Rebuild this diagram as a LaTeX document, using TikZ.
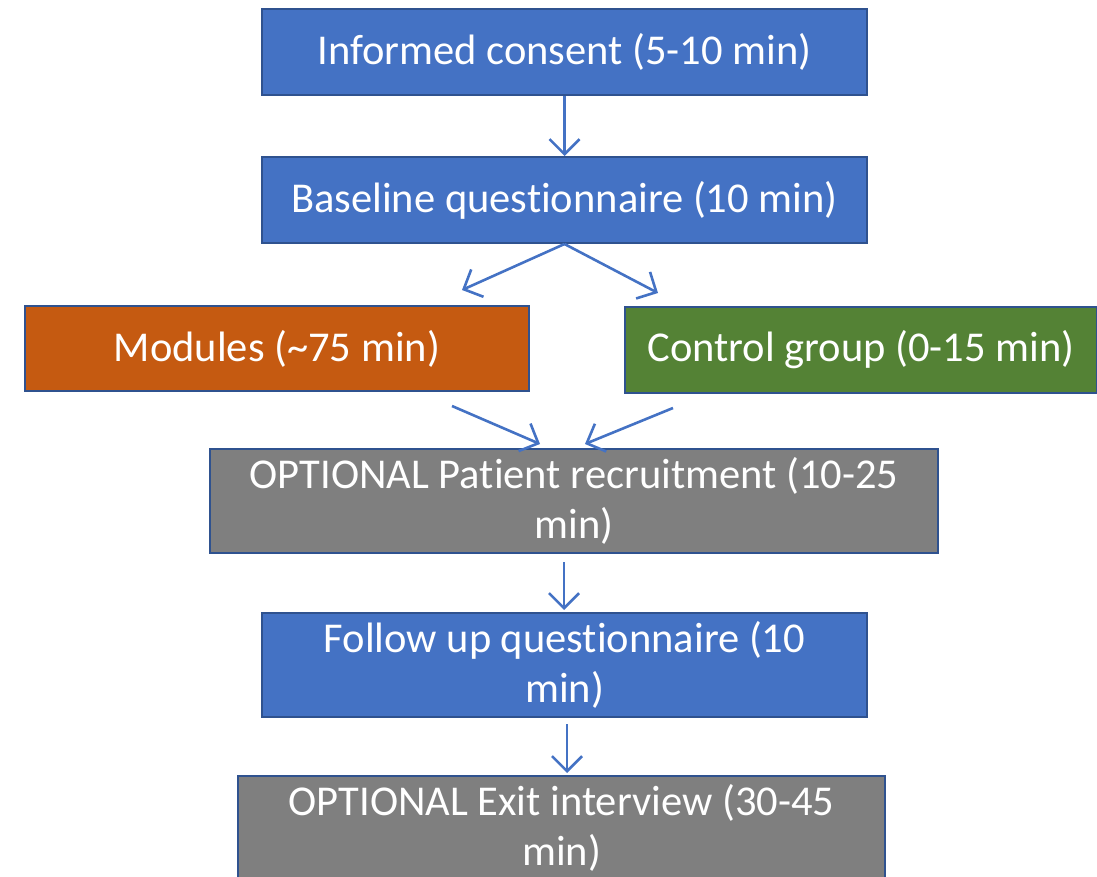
\documentclass[tikz,border=0pt]{standalone}
\usepackage{fontspec}
\setmainfont{Carlito}[Ligatures=NoCommon]
\usetikzlibrary{arrows.meta}
\definecolor{pblue}{HTML}{4472C4}
\definecolor{pborder}{HTML}{2F528F}
\definecolor{porange}{HTML}{C55A11}
\definecolor{pgreen}{HTML}{548235}
\definecolor{pgray}{HTML}{7F7F7F}
\begin{document}
\begin{tikzpicture}[x=1pt,y=-1pt,
  box/.style={draw=pborder,line width=2pt,text=white,inner sep=0pt,anchor=north west,
    font=\fontsize{42.5}{50}\selectfont,align=center},
  conn/.style={draw=pblue,line width=2.6pt,-{Straight Barb[length=15pt,width=30pt,line width=2.6pt]}}]
\useasboundingbox (0,0) rectangle (1097,877);
\node[box,fill=pblue,minimum width=605pt,minimum height=86pt] (ic) at (261,8) {Informed consent (5-10 min)};
\node[box,fill=pblue,minimum width=605pt,minimum height=86pt] (bq) at (261,156) {Baseline questionnaire (10 min)};
\node[box,fill=porange,minimum width=504pt,minimum height=85pt] (mod) at (24,305) {Modules (\textasciitilde75 min)};
\node[box,fill=pgreen,minimum width=472pt,minimum height=86pt] (cg) at (624,306) {Control group (0-15 min)};
\node[box,fill=pgray,minimum width=728pt,minimum height=104pt] (pr) at (209,448) {OPTIONAL Patient recruitment (10-25\\min)};
\node[box,fill=pblue,minimum width=605pt,minimum height=104pt] (fu) at (261,612) {Follow up questionnaire (10\\min)};
\node[box,fill=pgray,minimum width=647pt,minimum height=104pt] (ex) at (237,775) {OPTIONAL Exit interview (30-45\\min)};
\coordinate (m1) at (462,290);
\coordinate (c1) at (658,293);
\coordinate (ms) at (452,406);
\coordinate (cs) at (673,408);
\coordinate (p1) at (540,444);
\coordinate (p2) at (585,444);
\coordinate (pb) at (564,562);
\coordinate (ft) at (564,610);
\coordinate (fb) at (567,724);
\coordinate (et) at (567,773);
\draw[conn] (ic.south) -- (bq.north);
\draw[conn] (bq.south) -- (m1);
\draw[conn] (bq.south) -- (c1);
\draw[conn] (ms) -- (p1);
\draw[conn] (cs) -- (p2);
\draw[conn] (pb) -- (ft);
\draw[conn] (fb) -- (et);
\end{tikzpicture}
\end{document}
